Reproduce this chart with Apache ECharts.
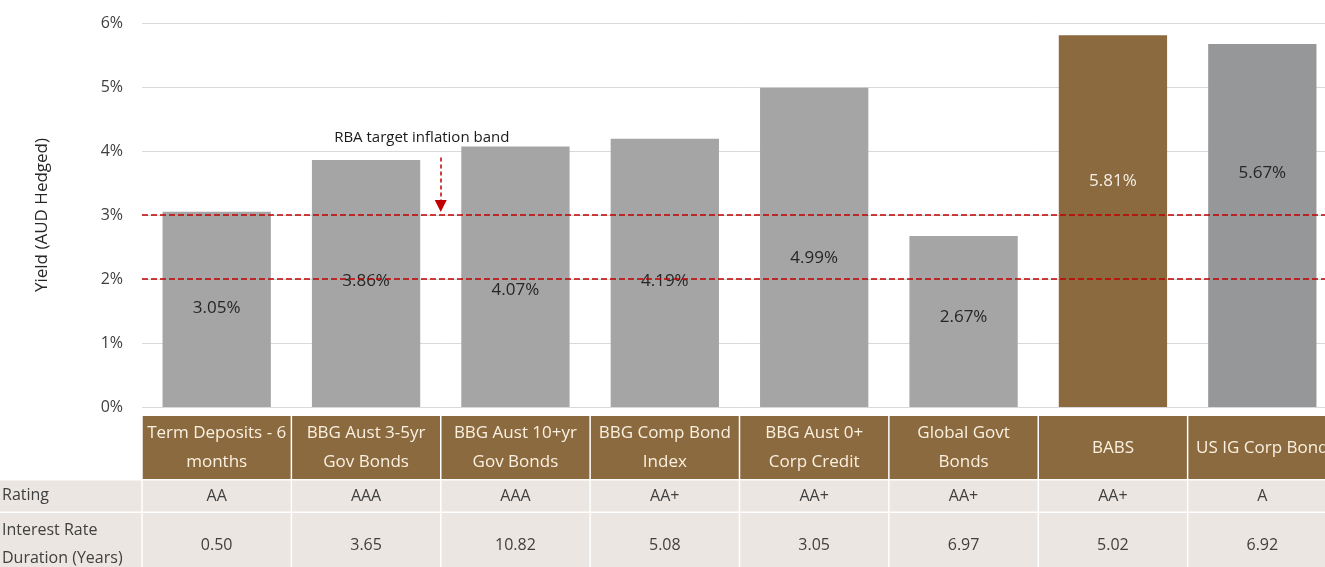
<!DOCTYPE html>
<html><head><meta charset="utf-8">
<script src="https://cdn.jsdelivr.net/npm/echarts@6/dist/echarts.min.js"></script>
<style>html,body{margin:0;padding:0;background:#fff;overflow:hidden}#c{width:1340px;height:567px}</style>
</head><body><div id="c"></div>
<script>
// ---- data ----
const categories = ['Term Deposits - 6\nmonths', 'BBG Aust 3-5yr\nGov Bonds', 'BBG Aust 10+yr\nGov Bonds', 'BBG Comp Bond\nIndex', 'BBG Aust 0+\nCorp Credit', 'Global Govt\nBonds', 'BABS', 'US IG Corp Bond'];
const yields = [3.05, 3.86, 4.07, 4.19, 4.99, 2.67, 5.81, 5.67];
const ratings = ['AA', 'AAA', 'AAA', 'AA+', 'AA+', 'AA+', 'AA+', 'A'];
const durations = ['0.50', '3.65', '10.82', '5.08', '3.05', '6.97', '5.02', '6.92'];
const rowLabels = ['Rating', 'Interest Rate\nDuration (Years)'];
const yTicks = [0, 1, 2, 3, 4, 5, 6];
const bandLimits = [2, 3];
const annotationText = 'RBA target inflation band';
const arrowX = 1.5;               // between 2nd and 3rd category
const arrowFromTo = [3.9, 3.14];
const annotationY = 4.21;
const yAxisTitle = 'Yield (AUD Hedged)';

// ---- styles ----
const FONT = 'Open Sans';
const BROWN = '#8b6a3f', GRAY2 = '#959799';
const barColors = ['#a5a5a5', '#a5a5a5', '#a5a5a5', '#a5a5a5', '#a5a5a5', '#a5a5a5', BROWN, GRAY2];
const labelColors = ['#262626', '#262626', '#262626', '#262626', '#262626', '#262626', '#f6efe4', '#262626'];
const labelShift = [-1, -2, 13, 8, 11, -4, -40, -52];
const RED = '#c00000';

const chart = echarts.init(document.getElementById('c'), null, {renderer: 'canvas'});

const option = {
  animation: false,
  backgroundColor: '#ffffff',
  textStyle: {fontFamily: FONT},
  grid: {left: 142, right: 3, top: 23, bottom: 160, containLabel: false},
  xAxis: [{
    type: 'category',
    data: categories,
    axisLine: {show: false},
    axisTick: {show: false},
    axisLabel: {
      interval: 0,
      margin: 12,
      verticalAlign: 'top',
      formatter: function (value) {
        const i = categories.indexOf(value);
        const parts = categories[i].split('\n');
        let s = parts.length > 1 ? parts.map(p => '{h|' + p + '}').join('\n') : '{hs|' + parts[0] + '}';
        s += '\n{r|' + ratings[i] + '}\n{d|' + durations[i] + '}';
        return s;
      },
      rich: {
        h: {color: '#fbf1e1', fontSize: 17, lineHeight: 29, fontFamily: FONT},
        hs: {color: '#fbf1e1', fontSize: 17, lineHeight: 58, fontFamily: FONT},
        r: {color: '#404040', fontSize: 16, lineHeight: 38, fontFamily: FONT},
        d: {color: '#404040', fontSize: 16, lineHeight: 60, fontFamily: FONT}
      }
    }
  }, {
    type: 'value', show: false, min: -0.5, max: categories.length - 0.5
  }],
  yAxis: {
    type: 'value',
    min: yTicks[0], max: yTicks[yTicks.length - 1], interval: 1,
    name: yAxisTitle,
    nameLocation: 'middle',
    nameGap: 91,
    nameRotate: 90,
    nameTextStyle: {fontSize: 17, color: '#262626', fontFamily: FONT},
    axisLine: {show: false},
    axisTick: {show: false},
    axisLabel: {formatter: '{value}%', fontSize: 16, color: '#404040', margin: 19, fontFamily: FONT},
    splitLine: {lineStyle: {color: '#d9d9d9', width: 1}}
  },
  series: [{
    type: 'bar',
    barCategoryGap: '27.5%',
    data: yields.map((v, i) => ({
      value: v,
      itemStyle: {color: barColors[i]},
      label: {offset: [0, labelShift[i]], color: labelColors[i]}
    })),
    label: {
      show: true, position: 'inside', fontSize: 17, fontFamily: FONT,
      formatter: p => p.value.toFixed(2) + '%'
    },
    markLine: {
      silent: true,
      symbol: 'none',
      label: {show: false},
      lineStyle: {color: RED, type: [6, 3], width: 1.6},
      data: [{yAxis: bandLimits[0]}, {yAxis: bandLimits[1]}]
    }
  }, {
    type: 'line',
    xAxisIndex: 1,
    yAxisIndex: 0,
    data: [],
    markLine: {
      silent: true,
      label: {show: false},
      lineStyle: {color: RED, type: [4, 3], width: 1.5},
      data: [[
        {coord: [arrowX, arrowFromTo[0]], symbol: 'none'},
        {coord: [arrowX, arrowFromTo[1]], symbol: 'triangle', symbolSize: 12}
      ]]
    },
    markPoint: {
      silent: true,
      symbol: 'circle',
      symbolSize: 1,
      itemStyle: {color: 'rgba(0,0,0,0)'},
      label: {show: true, position: 'inside', color: '#1a1a1a', fontSize: 15, fontFamily: FONT, offset: [-19, 0],
        formatter: () => annotationText},
      data: [{coord: [arrowX, annotationY]}]
    }
  }]
};
chart.setOption(option);

// table backgrounds derived from axis layout
function drawTable() {
  const c0 = chart.convertToPixel({xAxisIndex: 0}, categories[0]);
  const c1 = chart.convertToPixel({xAxisIndex: 0}, categories[1]);
  const bw = c1 - c0;
  const els = [];
  const rows = [
    {y: 416, h: 63, color: BROWN, left: false},
    {y: 480.5, h: 31, color: '#ebe6e1', left: true},
    {y: 513, h: 60, color: '#ebe6e1', left: true}
  ];
  rows.forEach(r => {
    categories.forEach((c) => {
      const cx = chart.convertToPixel({xAxisIndex: 0}, c);
      els.push({type: 'rect', z: -5, silent: true,
        shape: {x: cx - bw / 2 + 0.75, y: r.y, width: bw - 1.5, height: r.h},
        style: {fill: r.color}});
    });
    if (r.left) {
      els.push({type: 'rect', z: -5, silent: true,
        shape: {x: 0, y: r.y, width: c0 - bw / 2 - 0.75, height: r.h},
        style: {fill: r.color}});
    }
  });
  els.push({type: 'text', z: 5, silent: true, left: 2, top: 487,
    style: {text: rowLabels[0], fill: '#404040', font: '16px "' + FONT + '"'}});
  els.push({type: 'text', z: 5, silent: true, left: 2, top: 516,
    style: {text: rowLabels[1], fill: '#404040', font: '16px "' + FONT + '"', lineHeight: 28}});
  chart.setOption({graphic: {elements: els}});
}
drawTable();
</script>
</body></html>
